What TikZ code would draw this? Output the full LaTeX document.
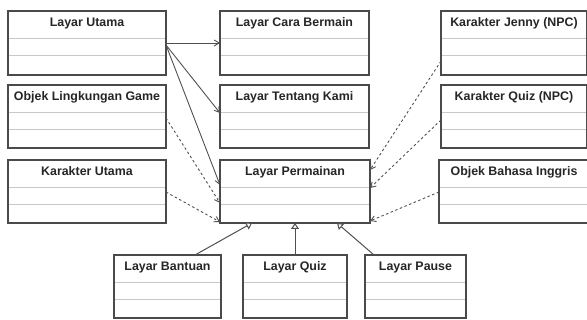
\documentclass[tikz,border=0pt]{standalone}
\usepackage{fontspec}
\setmainfont{Liberation Sans}
\usetikzlibrary{arrows.meta}
\definecolor{frame}{HTML}{4A4A4A}
\definecolor{rule}{HTML}{C8C8C8}
\definecolor{link}{HTML}{505050}
\tikzset{
  classbox/.style={draw=frame, line width=1.1pt, fill=white, anchor=north west, inner sep=0pt, outer sep=0pt},
  classtitle/.style={anchor=base, font=\bfseries\fontsize{12.4}{14}\selectfont, text=black!85, inner sep=0pt},
  seprule/.style={draw=rule, line width=0.9pt},
  uses/.style={draw=link, line width=0.9pt, -{Straight Barb[length=5pt,width=6pt]}},
  depends/.style={draw=link, line width=0.9pt, dashed, dash pattern=on 2.5pt off 2.5pt, -{Straight Barb[length=5pt,width=6pt]}},
  extends/.style={draw=link, line width=1pt, -{Triangle[open, length=6pt, width=8pt, fill=white]}},
}
% name, left, top, width, height, title
\newcommand\classnode[6]{%
  \node[classbox, minimum width=#4pt, minimum height=#5pt] (#1) at (#2,#3) {};
  \node[classtitle] (#1-t) at ([yshift=-15.5pt]#1.north) {#6};
  \draw[seprule] ([xshift=1pt,yshift=-27pt]#1.north west) -- ([xshift=-1pt,yshift=-27pt]#1.north east);
  \draw[seprule] ([xshift=1pt,yshift=-44pt]#1.north west) -- ([xshift=-1pt,yshift=-44pt]#1.north east);
}
\begin{document}
\begin{tikzpicture}[x=1pt,y=-1pt]
\useasboundingbox (0,0) rectangle (587,320);
% left column
\classnode{LU}{8}{11}{158}{64}{Layar Utama}
\classnode{OLG}{8}{85}{158}{63}{Objek Lingkungan Game}
\classnode{KU}{8}{160}{158}{63}{Karakter Utama}
% middle column
\classnode{LCB}{220}{11}{149}{64}{Layar Cara Bermain}
\classnode{LTK}{220}{85}{149}{63}{Layar Tentang Kami}
\classnode{LP}{220}{160}{150}{63}{Layar Permainan}
% right column
\classnode{KJ}{441}{11}{146}{64}{Karakter Jenny (NPC)}
\classnode{KQ}{441}{85}{146}{63}{Karakter Quiz (NPC)}
\classnode{OBI}{439}{160}{150}{63}{Objek Bahasa Inggris}
% bottom row
\classnode{LB}{114}{255}{107}{63}{Layar Bantuan}
\classnode{LQ}{243}{255}{104}{63}{Layar Quiz}
\classnode{LPa}{365}{255}{101}{63}{Layar Pause}
% navigation from the main screen
\draw[uses] ([yshift=-32pt]LU.north east) -- ([yshift=-32pt]LCB.north west);
\draw[uses] ([yshift=-34pt]LU.north east) -- ([yshift=-28pt]LTK.north west);
\draw[uses] ([yshift=-34pt]LU.north east) -- ([yshift=-25pt]LP.north west);
% dependencies of the game screen
\draw[depends] ([yshift=-33pt]OLG.north east) -- ([yshift=-43pt]LP.north west);
\draw[depends] ([yshift=-32pt]KU.north east) -- ([yshift=1pt]LP.south west);
\draw[depends] ([yshift=-50pt]KJ.north west) -- ([yshift=-10pt]LP.north east);
\draw[depends] ([yshift=-35pt]KQ.north west) -- ([yshift=-28pt]LP.north east);
\draw[depends] ([yshift=-32pt]OBI.north west) -- ([yshift=2pt]LP.south east);
% specialisations of the game screen
\draw[extends] ([xshift=81pt]LB.north west) -- ([xshift=32pt]LP.south west);
\draw[extends] (LQ.north) -- (LQ.north |- LP.south);
\draw[extends] ([xshift=9pt]LPa.north west) -- ([xshift=117pt]LP.south west);
\end{tikzpicture}
\end{document}
